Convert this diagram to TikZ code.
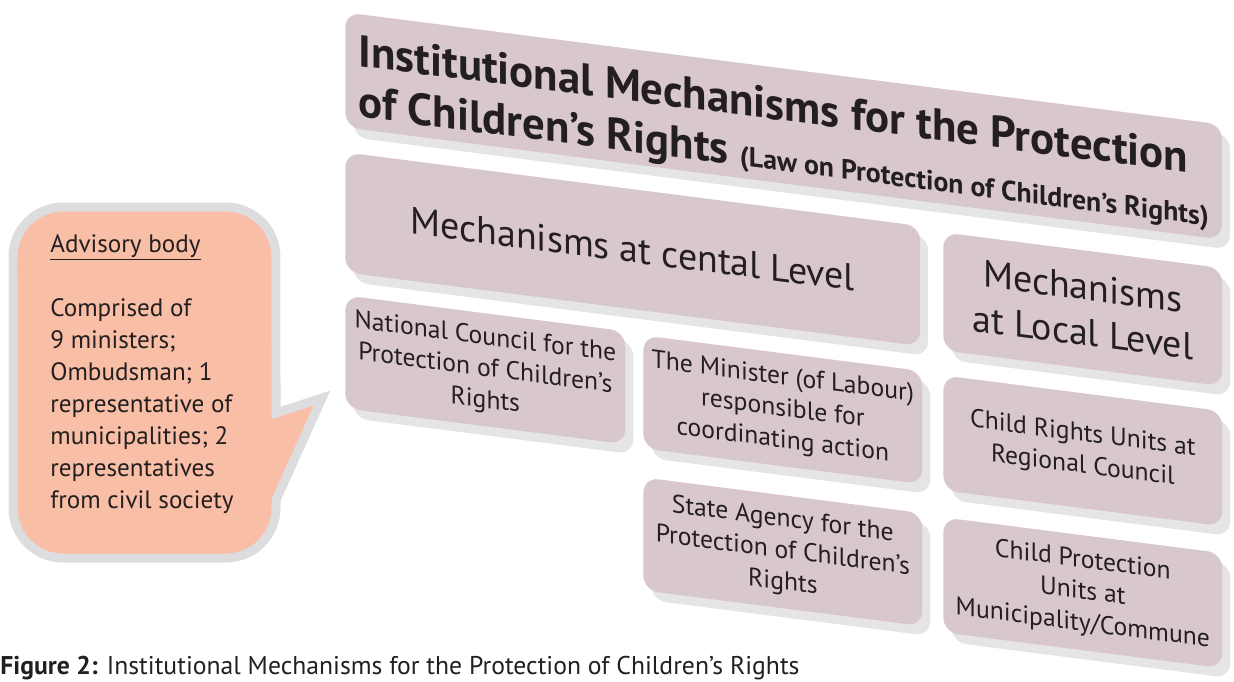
\documentclass[tikz,border=0pt]{standalone}
\usepackage{fontspec}
\setmainfont{PT Sans}
\usetikzlibrary{shadows,positioning}
\definecolor{boxmauve}{RGB}{217,199,208}
\definecolor{shadowgrey}{RGB}{229,229,231}
\definecolor{balloonfill}{RGB}{249,190,166}
\definecolor{balloonline}{RGB}{221,221,223}
\definecolor{inkgrey}{RGB}{35,31,32}
\tikzset{mech-box/.style={fill=boxmauve, rounded corners=0.3cm, inner sep=0, anchor=north west,
    align=center, yslant=-0.128, text=inkgrey, font=\fontsize{14.6}{18}\selectfont,
    general shadow={fill=shadowgrey, shadow xshift=0.16cm, shadow yshift=-0.2cm}}}
\tikzset{mech-level/.style={mech-box, font=\fontsize{21.6}{26}\selectfont}}
\tikzset{balloon/.style={fill=balloonfill, draw=balloonline, line width=0.18cm, line join=miter}}

\begin{document}
\begin{tikzpicture}[x=0.02cm, y=-0.02cm]
    \useasboundingbox (0,0) rectangle (1234,681);

    % title and the two levels
    \node[mech-box, minimum width=17.54cm, minimum height=2.3cm, font=\bfseries\fontsize{25.5}{29}\selectfont, align=left] (title) at (345,12)
        {\rule{0pt}{1.1em}Institutional Mechanisms for the Protection\\of Children's Rights {\fontsize{15.8}{18}\selectfont(Law on Protection of Children's Rights)}};
    \node[mech-level, minimum width=11.5cm, minimum height=2.4cm] (central) at (345,152) {Mechanisms at cental Level};
    \node[mech-level, minimum width=5.58cm, minimum height=2.36cm] (local) at (943,232) {Mechanisms\\at Local Level};

    % central level
    \node[mech-box, minimum width=5.6cm, minimum height=2.26cm] (council) at (345,295)
        {National Council for the\\Protection of Children's\\Rights};
    \node[mech-box, minimum width=5.58cm, minimum height=2.26cm] (minister) at (643,335)
        {The Minister (of Labour)\\responsible for\\coordinating action};
    \node[mech-box, minimum width=5.58cm, minimum height=2.26cm] (agency) at (643,477)
        {State Agency for the\\Protection of Children's\\Rights};

    % local level
    \node[mech-box, minimum width=5.58cm, minimum height=2.3cm] (regional) at (943,375)
        {Child Rights Units at\\Regional Council};
    \node[mech-box, minimum width=5.58cm, minimum height=2.3cm] (municipal) at (943,517)
        {Child Protection\\Units at\\Municipality/Commune};

    % advisory body balloon
    \draw[balloon] (63,207) -- (226,207) arc[start angle=90, end angle=0, radius=1cm]
        -- (276,413) -- (322,398) -- (276,500)
        -- (276,508) arc[start angle=0, end angle=-90, radius=1cm]
        -- (63,558) arc[start angle=270, end angle=180, radius=1cm]
        -- (13,257) arc[start angle=180, end angle=90, radius=1cm] -- cycle;
    \node[anchor=north west, inner sep=0, align=left, text=inkgrey, font=\fontsize{14.3}{18.2}\selectfont] (advisory) at (50,234)
        {\underline{Advisory body}\\[18.2pt]Comprised of\\9 ministers;\\Ombudsman; 1\\representative of\\municipalities; 2\\representatives\\from civil society};

    \node[anchor=base west, inner sep=0, text=inkgrey, font=\fontsize{14.6}{17}\selectfont] (caption) at (0,674)
        {\textbf{Figure 2:} Institutional Mechanisms for the Protection of Children's Rights};
\end{tikzpicture}
\end{document}
